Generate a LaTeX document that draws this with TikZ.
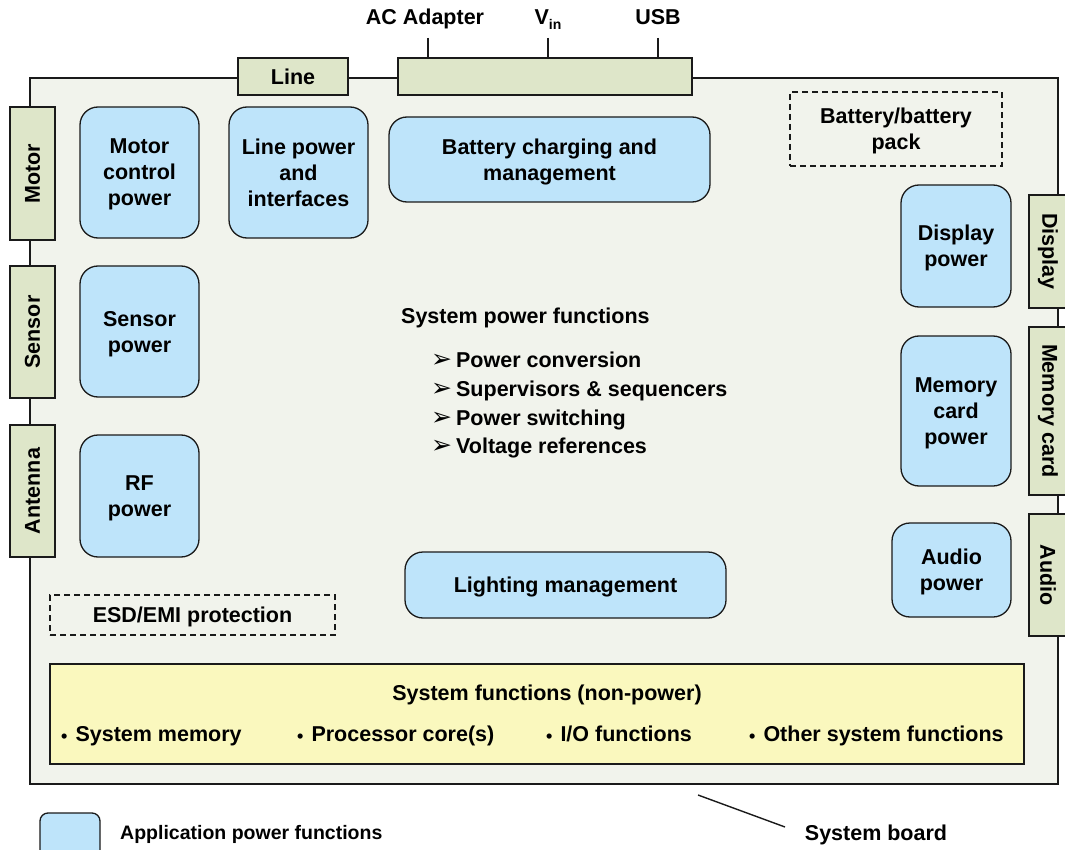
\documentclass[tikz,border=0pt]{standalone}
\usepackage{fontspec}
\setmainfont{Liberation Sans}
\newfontfamily\dv{DejaVu Sans}
\definecolor{boardfill}{HTML}{F1F3EC}
\definecolor{tabfill}{HTML}{DEE6C9}
\definecolor{appfill}{HTML}{BEE4FA}
\definecolor{sysfill}{HTML}{FAF8BE}
\definecolor{edge}{HTML}{1A1A1A}
\newcommand{\arr}{\raisebox{-0.5pt}{\dv\fontsize{25}{25}\selectfont ➢}\hspace{4pt}}
\newcommand{\bul}{\raisebox{-1pt}{\fontsize{18}{18}\selectfont •}\hspace{8pt}}
\tikzset{
  txt/.style={font=\fontsize{21.5}{26}\selectfont\bfseries, align=center, inner sep=0pt},
  tab/.style={txt, draw=edge, line width=1.6pt, fill=tabfill},
  app/.style={txt, draw=edge, line width=1.3pt, fill=appfill, rounded corners=18pt, text depth=0pt},
  dashbox/.style={txt, draw=edge, line width=1.3pt, dashed, dash pattern=on 6pt off 4pt, text depth=0pt},
  lst/.style={txt, anchor=base west, align=left},
  tick/.style={draw=edge, line width=1.6pt},
}
\begin{document}
\begin{tikzpicture}[x=1pt,y=-1pt]
\useasboundingbox (0,0) rectangle (1065,850);
\clip (0,0) rectangle (1065,850);
% board
\draw[draw=edge, line width=1.8pt, fill=boardfill] (30,78) rectangle (1058,784);
% top tabs
\node[tab, minimum width=110, minimum height=37] (line) at (293,76.5) {Line};
\node[tab, minimum width=294, minimum height=37] (pwrin) at (545,76.5) {};
\node[txt, anchor=base] (ac) at (425,25) {AC Adapter};
\node[txt, anchor=base] (vin) at (548,25) {V\raisebox{-0.4ex}{\fontsize{14}{14}\selectfont in}};
\node[txt, anchor=base] (usb) at (658,25) {USB};
\coordinate (tac) at (428,38);
\coordinate (tvin) at (548,38);
\coordinate (tusb) at (658,38);
\draw[tick] (tac) -- (tac |- pwrin.north);
\draw[tick] (tvin) -- (tvin |- pwrin.north);
\draw[tick] (tusb) -- (tusb |- pwrin.north);
% left tabs
\node[tab, rotate=90, minimum width=133, minimum height=45] (motor) at (32.5,173.5) {Motor};
\node[tab, rotate=90, minimum width=132, minimum height=45] (sensor) at (32.5,332) {Sensor};
\node[tab, rotate=90, minimum width=132, minimum height=45] (antenna) at (32.5,491) {Antenna};
% right tabs
\node[tab, rotate=-90, minimum width=113, minimum height=38] (display) at (1048,251.5) {Display};
\node[tab, rotate=-90, minimum width=168, minimum height=38] (memcard) at (1048,411) {Memory card};
\node[tab, rotate=-90, minimum width=122, minimum height=38] (audio) at (1048,575) {Audio};
% application power boxes
\node[app, minimum width=119, minimum height=131] (motorpw) at (139.5,172.5) {Motor\\control\\power};
\node[app, minimum width=139, minimum height=131] (linepw) at (298.5,172.5) {Line power\\and\\interfaces};
\node[app, minimum width=321, minimum height=85] (batt) at (549.5,159.5) {Battery charging and\\management};
\node[app, minimum width=119, minimum height=131] (sensorpw) at (139.5,331.5) {Sensor\\power};
\node[app, minimum width=119, minimum height=122] (rfpw) at (139.5,496) {RF\\power};
\node[app, minimum width=321, minimum height=66] (light) at (565.5,585) {Lighting management};
\node[app, minimum width=110, minimum height=122] (disppw) at (956,246) {Display\\power};
\node[app, minimum width=110, minimum height=150] (mempw) at (956,411) {Memory\\card\\power};
\node[app, minimum width=119, minimum height=94] (audiopw) at (951.5,570) {Audio\\power};
% dashed boxes
\node[dashbox, minimum width=212, minimum height=74] (battpack) at (896,129) {Battery/battery\\pack};
\node[dashbox, minimum width=285, minimum height=40] (esd) at (192.5,615) {ESD/EMI protection};
% system power functions
\node[lst] (spf) at (401,323) {System power functions};
\node[lst] (a1) at (431,367) {\arr Power conversion};
\node[lst] (a2) at (431,396) {\arr Supervisors \& sequencers};
\node[lst] (a3) at (431,425) {\arr Power switching};
\node[lst] (a4) at (431,453) {\arr Voltage references};
% system functions (non-power)
\node[txt, draw=edge, line width=1.8pt, fill=sysfill, minimum width=974, minimum height=100] (sys) at (537,714) {};
\node[txt, anchor=base] (systitle) at (547,700) {System functions (non-power)};
\node[lst] (b1) at (61,741) {\bul System memory};
\node[lst] (b2) at (297,741) {\bul Processor core(s)};
\node[lst] (b3) at (546,741) {\bul I/O functions};
\node[lst] (b4) at (749,741) {\bul Other system functions};
% system board label
\node[txt, anchor=base] (sb) at (876,840) {System board};
\coordinate (sbp) at (698,795);
\coordinate (sbe) at (785,827);
\draw[line width=1.4pt, draw=edge] (sbp) -- (sbe);
% legend
\node[app, rounded corners=8pt, minimum width=60, minimum height=48] (legbox) at (70,837) {};
\node[lst, font=\fontsize{19.5}{22}\selectfont\bfseries] (legtxt) at (120,839) {Application power functions};
\end{tikzpicture}
\end{document}
